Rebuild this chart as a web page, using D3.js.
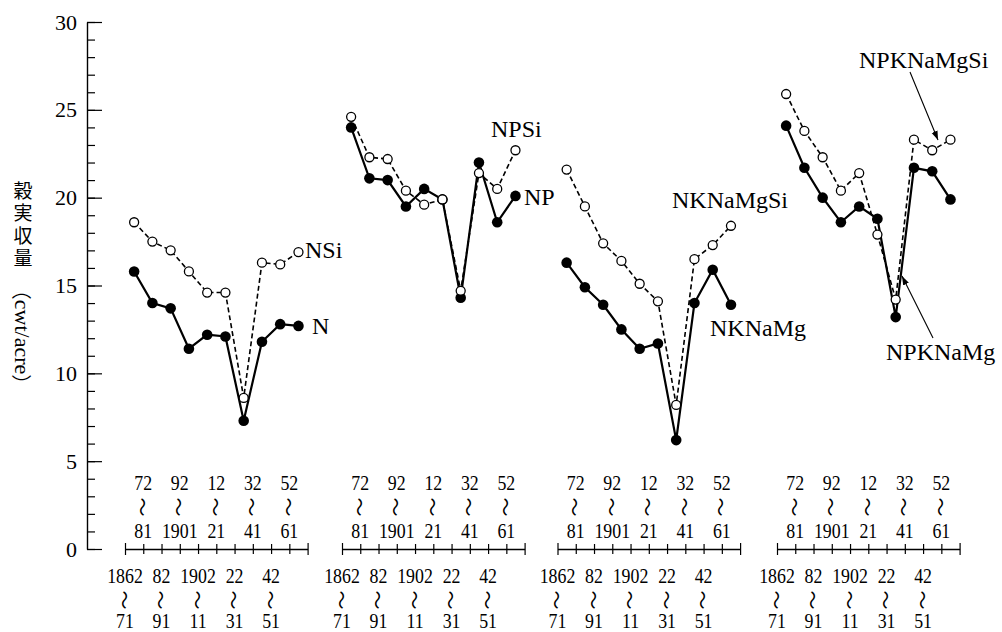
<!DOCTYPE html>
<html><head><meta charset="utf-8">
<script src="https://cdn.jsdelivr.net/npm/d3@7"></script>
<style>
html,body{margin:0;padding:0;background:#fff;}
svg{display:block;}
text{font-family:"Liberation Serif","Times New Roman",serif;fill:#000;}
</style></head>
<body>
<svg id="chart" width="1002" height="632"></svg>
<script>
// ---------- DATA ----------
const periodStarts = ["1862","72","82","92","1902","12","22","32","42","52"];
const periodEnds   = ["71","81","91","1901","11","21","31","41","51","61"];
const periods = periodStarts.map((s,i)=>s+"-"+periodEnds[i]);

const yTicks = [0,5,10,15,20,25,30];

const nValues        = [15.8, 14.0, 13.7, 11.4, 12.2, 12.1, 7.3, 11.8, 12.8, 12.7];
const nsiValues      = [18.6, 17.5, 17.0, 15.8, 14.6, 14.6, 8.6, 16.3, 16.2, 16.9];
const npValues       = [24.0, 21.1, 21.0, 19.5, 20.5, 19.9, 14.3, 22.0, 18.6, 20.1];
const npsiValues     = [24.6, 22.3, 22.2, 20.4, 19.6, 19.9, 14.7, 21.4, 20.5, 22.7];
const nknamgValues   = [16.3, 14.9, 13.9, 12.5, 11.4, 11.7, 6.2, 14.0, 15.9, 13.9];
const nknamgsiValues = [21.6, 19.5, 17.4, 16.4, 15.1, 14.1, 8.2, 16.5, 17.3, 18.4];
const npknamgValues  = [24.1, 21.7, 20.0, 18.6, 19.5, 18.8, 13.2, 21.7, 21.5, 19.9];
const npknamgsiValues= [25.9, 23.8, 22.3, 20.4, 21.4, 17.9, 14.2, 23.3, 22.7, 23.3];

const solidNames  = ["N","NP","NKNaMg","NPKNaMg"];
const dashedNames = ["NSi","NPSi","NKNaMgSi","NPKNaMgSi"];
const solidSeries  = [nValues, npValues, nknamgValues, npknamgValues];
const dashedSeries = [nsiValues, npsiValues, nknamgsiValues, npknamgsiValues];

const yTitleMain = "穀実収量";
const yTitleUnit = "cwt/acre";

// ---------- LAYOUT ----------
const svg = d3.select("#chart");
const axisX = 87;
const y = d3.scaleLinear().domain([0,30]).range([549,22]);
const panelStarts = [125, 342, 557.5, 777];
const panelWidth = 182.6;

// y axis (minor + major ticks pointing inward)
const gy = svg.append("g").attr("transform",`translate(${axisX},0)`);
gy.call(d3.axisLeft(y).tickValues(d3.range(0,31,1)).tickSizeInner(-8).tickSizeOuter(0).tickFormat(""));
gy.selectAll(".tick line").attr("stroke","#000").attr("stroke-width",1.2);
gy.selectAll(".domain").attr("stroke","#000").attr("stroke-width",1.4);
const gyMajor = svg.append("g").attr("transform",`translate(${axisX},0)`);
gyMajor.call(d3.axisLeft(y).tickValues(yTicks).tickSizeInner(-15).tickSizeOuter(0).tickPadding(10));
gyMajor.selectAll(".domain").remove();
gyMajor.selectAll(".tick line").attr("stroke","#000").attr("stroke-width",1.2);
gyMajor.selectAll(".tick text").attr("font-size",22).attr("fill","#000");

// y title
const titleX = 23;
svg.append("text").attr("x",titleX).attr("y",181)
  .style("writing-mode","vertical-rl").style("letter-spacing","3.5px")
  .style("font-family","'Noto Sans CJK JP'").attr("font-size",19).text(yTitleMain);
const unit = svg.append("text").attr("transform",`translate(${titleX},337) rotate(90)`)
  .attr("text-anchor","middle").attr("dominant-baseline","central").attr("font-size",22);
unit.append("tspan").style("font-family","'Noto Sans CJK JP'").attr("font-size",20).text("（");
unit.append("tspan").text(yTitleUnit);
unit.append("tspan").style("font-family","'Noto Sans CJK JP'").attr("font-size",20).text("）");

// markers
svg.append("defs").append("marker").attr("id","arr")
  .attr("viewBox","0 0 10 10").attr("refX",10).attr("refY",5)
  .attr("markerWidth",9).attr("markerHeight",9).attr("markerUnits","userSpaceOnUse")
  .attr("orient","auto")
  .append("path").attr("d","M0,1.5 L10,5 L0,8.5 Z").attr("fill","#000");

function condText(g, x, yy, str){
  g.append("text").attr("transform",`translate(${x},${yy}) scale(0.85,1)`)
    .attr("text-anchor","middle").attr("dominant-baseline","central")
    .attr("font-size",21).text(str);
}
function wave(g, x, yy){
  g.append("text").attr("transform",`translate(${x},${yy}) rotate(90)`)
    .attr("text-anchor","middle").attr("dominant-baseline","central")
    .style("font-family","'Noto Sans CJK JP'").attr("font-size",19).text("〜");
}

panelStarts.forEach((x0,pi)=>{
  const g = svg.append("g");
  const band = d3.scaleBand().domain(periods).range([x0, x0+panelWidth]).paddingInner(0).paddingOuter(0);
  const edges = d3.scaleLinear().domain([0,periods.length]).range([x0, x0+panelWidth]);
  const ga = g.append("g").attr("transform",`translate(0,${y(0)})`);
  ga.call(d3.axisBottom(edges).tickValues(d3.range(0,periods.length+1)).tickSizeOuter(0).tickSizeInner(5).tickFormat(""));
  ga.selectAll(".domain").attr("stroke","#000").attr("stroke-width",1.3);
  ga.selectAll(".tick line").attr("y1",-5).attr("stroke","#000").attr("stroke-width",1.2);
  ga.selectAll(".tick").filter(d=>d===0||d===periods.length).select("line").attr("y1",-6).attr("y2",6);
  periods.forEach((p,i)=>{
    const lx = band(p);
    if(i%2===0){
      condText(g, lx, 576, periodStarts[i]);
      wave(g, lx, 600);
      condText(g, lx, 621, periodEnds[i]);
    } else {
      condText(g, lx, 483, periodStarts[i]);
      wave(g, lx, 507);
      condText(g, lx, 531, periodEnds[i]);
    }
  });
  const cx = (d,i)=>band(periods[i])+band.bandwidth()/2;
  const line = d3.line().x((d,i)=>cx(d,i)).y(d=>y(d));
  g.append("path").attr("d",line(dashedSeries[pi])).attr("fill","none")
    .attr("stroke","#000").attr("stroke-width",1.6).attr("stroke-dasharray","5,3");
  g.append("path").attr("d",line(solidSeries[pi])).attr("fill","none")
    .attr("stroke","#000").attr("stroke-width",2.2);
  g.selectAll("circle.f").data(solidSeries[pi]).join("circle").attr("class","f")
    .attr("cx",cx).attr("cy",d=>y(d)).attr("r",5.3).attr("fill","#000");
  g.selectAll("circle.o").data(dashedSeries[pi]).join("circle").attr("class","o")
    .attr("cx",cx).attr("cy",d=>y(d)).attr("r",4.5).attr("fill","#fff")
    .attr("stroke","#000").attr("stroke-width",1.3);
});

// series labels
const labelFont = 24;
function lab(x, yy, str){
  svg.append("text").attr("x",x).attr("y",yy).attr("dominant-baseline","central")
    .attr("font-size",labelFont).text(str);
}
lab(305, 250, dashedNames[0]);
lab(312, 326, solidNames[0]);
lab(491, 129, dashedNames[1]);
lab(524, 197, solidNames[1]);
lab(672, 200, dashedNames[2]);
lab(710, 328, solidNames[2]);
lab(859, 60, dashedNames[3]);
lab(886, 352, solidNames[3]);
svg.append("line").attr("x1",910).attr("y1",72).attr("x2",938).attr("y2",140)
  .attr("stroke","#000").attr("stroke-width",1.1).attr("marker-end","url(#arr)");
svg.append("line").attr("x1",933).attr("y1",338).attr("x2",902).attr("y2",276)
  .attr("stroke","#000").attr("stroke-width",1.1).attr("marker-end","url(#arr)");
</script>
</body></html>
